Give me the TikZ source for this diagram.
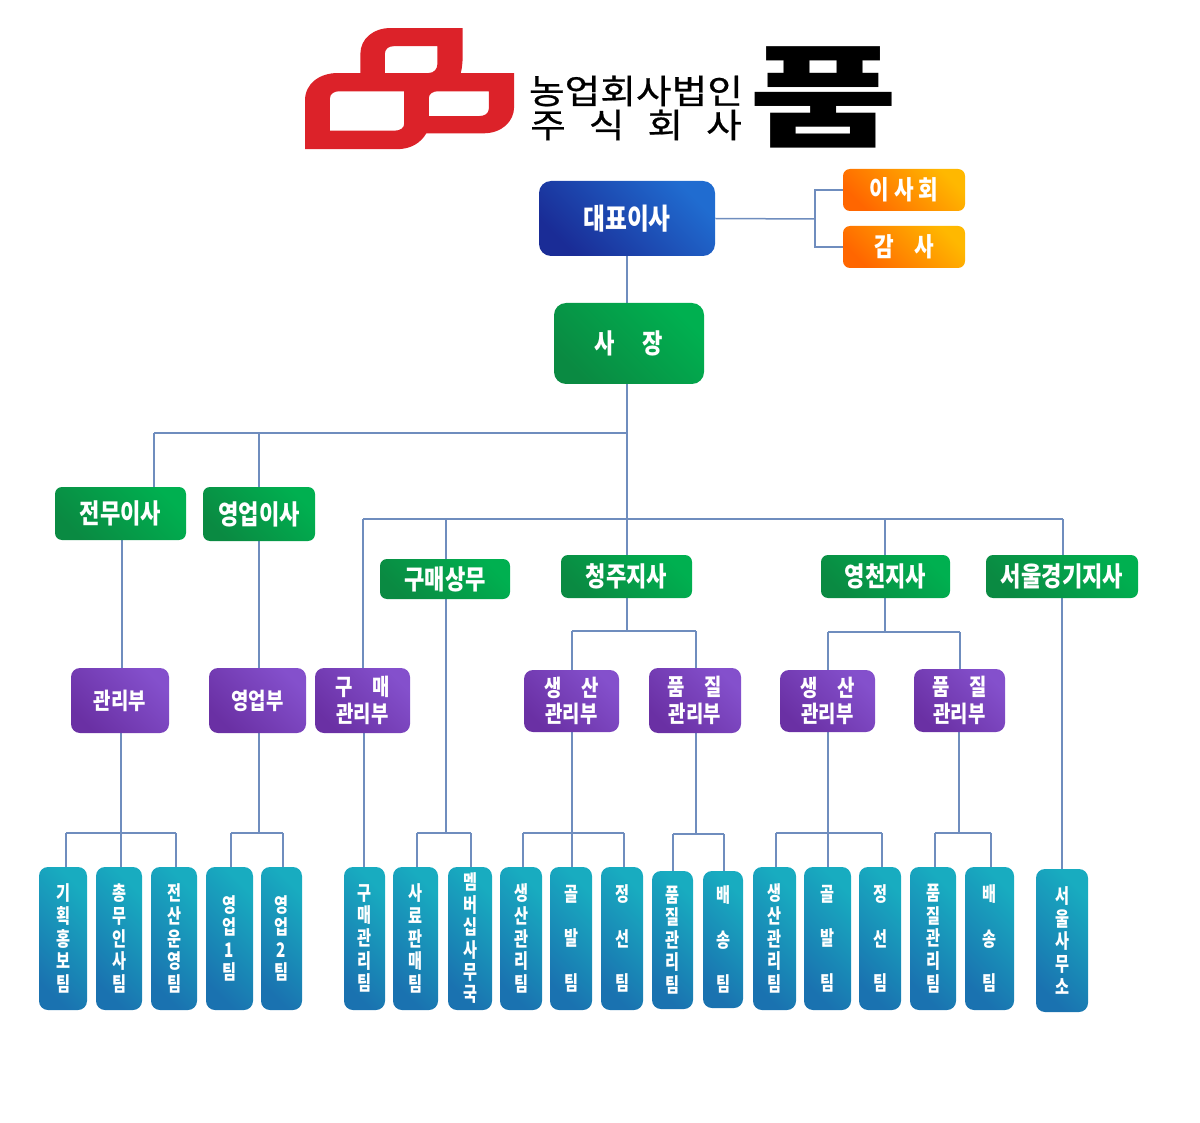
\documentclass[tikz,border=0pt]{standalone}
\usepackage{fontspec}
\usetikzlibrary{backgrounds}
\newfontfamily\krf[FakeStretch=0.82]{Noto Sans CJK KR}
\newfontfamily\krt[FakeStretch=0.76]{Noto Sans CJK KR}
\newfontfamily\krh[FakeStretch=1.14,FakeBold=0.6]{Noto Sans CJK KR}
\newfontfamily\krp[FakeStretch=1.44]{Noto Sans CJK KR}
\definecolor{linec}{HTML}{6F8DBE}
\definecolor{LogoRed}{HTML}{DC2229}
\tikzset{
  box/.style={inner sep=0pt,align=center,text=white,rounded corners=5pt,font=\krf\bfseries},
  blueb/.style={box,left color=BlueL,right color=BlueR,shading angle=135,rounded corners=6pt,font=\krf\bfseries\fontsize{14.5}{17}\selectfont},
  orangeb/.style={box,left color=OrL,right color=OrR,shading angle=135,rounded corners=3.5pt,font=\krf\bfseries\fontsize{13}{16}\selectfont},
  greenb/.style={box,left color=GrL,right color=GrR,shading angle=135,rounded corners=3.5pt,font=\krf\bfseries\fontsize{13.5}{16}\selectfont},
  bossb/.style={greenb,rounded corners=6pt},
  purpleb/.style={box,left color=PuL,right color=PuR,shading angle=135,rounded corners=4.5pt,font=\krf\bfseries\fontsize{11.5}{13.3}\selectfont},
  teamb/.style={box,left color=TeL,right color=TeR,shading angle=135,rounded corners=4.5pt},
  wire/.style={draw=linec,line width=.75pt},
}
\definecolor{BlueL}{HTML}{1A2C96}\definecolor{BlueR}{HTML}{206CD0}
\definecolor{OrL}{HTML}{FF6600}\definecolor{OrR}{HTML}{FFB800}
\definecolor{GrL}{HTML}{0A8A42}\definecolor{GrR}{HTML}{00B050}
\definecolor{PuL}{HTML}{6A30A4}\definecolor{PuR}{HTML}{8450CC}
\definecolor{TeL}{HTML}{1A72B0}\definecolor{TeR}{HTML}{18ACC0}
% name, x1, y1, x2, y2, style, text
\newcommand\bx[7]{\node[#6,minimum width={(#4-#2)*.5pt},minimum height={(#5-#3)*.5pt}] (#1) at ({(#2+#4)/2},{(#3+#5)/2}) {#7};}
% name, x1, y1, x2, y2, pitch(pt), text
\newcommand\tm[7]{\node[teamb,minimum width={(#4-#2)*.5pt},minimum height={(#5-#3)*.5pt},font=\krt\bfseries\fontsize{10}{#6}\selectfont] (#1) at ({(#2+#4)/2},{(#3+#5)/2}) {#7};}
% vertical wire at x between two anchors
\newcommand\vw[3]{\draw[wire] (#1,0 |- #2) -- (#1,0 |- #3);}
\begin{document}
\begin{tikzpicture}[x=.5pt,y=-.5pt]
\useasboundingbox (0,0) rectangle (1200,1123);
% logo
\begin{scope}[shift={(290,10.8)},xscale=.3953,yscale=.3311]
\fill[fill=LogoRed,even odd rule]
 (38,418) -- (38,270) .. controls (38,220) and (75,188) .. (120,188) -- (178,188) -- (178,130)
 .. controls (178,85) and (210,52) .. (255,52) -- (437,52) -- (437,120) .. controls (437,150) and (436,170) .. (432,188)
 -- (567,188) -- (567,290) .. controls (567,335) and (535,370) .. (490,370) -- (345,370)
 .. controls (330,400) and (305,418) .. (270,418) -- cycle
 (240,188) -- (240,130) .. controls (240,115) and (250,107) .. (262,107) -- (373,107) -- (373,160) .. controls (373,175) and (365,188) .. (350,188) -- cycle
 (101,362) -- (101,265) .. controls (101,250) and (112,243) .. (125,243) -- (289,243) -- (289,340) .. controls (289,353) and (280,362) .. (265,362) -- cycle
 (351,318) -- (351,265) .. controls (351,250) and (362,243) .. (375,243) -- (503,243) -- (503,295) .. controls (503,310) and (493,318) .. (478,318) -- cycle;
\end{scope}
\node[inner sep=0pt,font=\krh\fontsize{17}{20}\selectfont] (corp1) at (636,91) {농업회사법인};
\node[inner sep=0pt,font=\krh\fontsize{17}{20}\selectfont] (corp2) at (636,125) {주\hspace{11.5pt}식\hspace{11.5pt}회\hspace{11.5pt}사};
\node[inner sep=0pt,font=\krp\bfseries\fontsize{56}{60}\selectfont] (pum) at (824,97) {품};
% boxes
\bx{ceo}{539}{181}{715}{256}{blueb}{대표이사}
\bx{board}{843}{169}{965}{211}{orangeb}{이 사 회}
\bx{audit}{843}{226}{965}{268}{orangeb}{감\hspace{10pt}사}
\bx{pres}{554}{303}{704}{384}{bossb}{사\hspace{14pt}장}
\bx{g1}{55}{487}{186}{540}{greenb}{전무이사}
\bx{g2}{203}{487}{315}{541}{greenb}{영업이사}
\bx{g3}{380}{559}{510}{599}{greenb}{구매상무}
\bx{g4}{561}{555}{692}{598}{greenb}{청주지사}
\bx{g5}{821}{555}{950}{598}{greenb}{영천지사}
\bx{g6}{986}{555}{1138}{598}{greenb}{서울경기지사}
\bx{p1}{71}{668}{169}{733}{purpleb}{관리부}
\bx{p2}{209}{668}{306}{733}{purpleb}{영업부}
\bx{p3}{315}{668}{410}{733}{purpleb}{구\hspace{10pt}매\\관리부}
\bx{p4}{524}{670}{619}{732}{purpleb}{생\hspace{10pt}산\\관리부}
\bx{p5}{649}{668}{741}{733}{purpleb}{품\hspace{10pt}질\\관리부}
\bx{p6}{780}{670}{875}{732}{purpleb}{생\hspace{10pt}산\\관리부}
\bx{p7}{914}{669}{1005}{732}{purpleb}{품\hspace{10pt}질\\관리부}
\tm{t1}{39}{867}{87}{1010}{11.3}{기\\획\\홍\\보\\팀}
\tm{t2}{96}{867}{142}{1010}{11.3}{총\\무\\인\\사\\팀}
\tm{t3}{151}{867}{197}{1010}{11.3}{전\\산\\운\\영\\팀}
\tm{t4}{206}{867}{253}{1010}{11.3}{영\\업\\1\\팀}
\tm{t5}{261}{867}{302}{1010}{11.3}{영\\업\\2\\팀}
\tm{t6}{344}{867}{385}{1010}{11.3}{구\\매\\관\\리\\팀}
\tm{t7}{393}{867}{438}{1010}{11.3}{사\\료\\판\\매\\팀}
\tm{t8}{448}{867}{492}{1010}{11.2}{멤\\버\\십\\사\\무\\국}
\tm{t9}{500}{867}{542}{1010}{11.3}{생\\산\\관\\리\\팀}
\tm{t10}{550}{867}{592}{1010}{22.3}{골\\발\\팀}
\tm{t11}{601}{867}{643}{1010}{22.3}{정\\선\\팀}
\tm{t12}{652}{871}{693}{1009}{11.3}{품\\질\\관\\리\\팀}
\tm{t13}{703}{871}{743}{1008}{22.3}{배\\송\\팀}
\tm{t14}{753}{867}{796}{1010}{11.3}{생\\산\\관\\리\\팀}
\tm{t15}{804}{867}{851}{1010}{22.3}{골\\발\\팀}
\tm{t16}{859}{867}{901}{1010}{22.3}{정\\선\\팀}
\tm{t17}{910}{867}{956}{1010}{11.3}{품\\질\\관\\리\\팀}
\tm{t18}{965}{867}{1014}{1010}{22.3}{배\\송\\팀}
\tm{t19}{1036}{869}{1088}{1012}{11.3}{서\\울\\사\\무\\소}
% bus coordinates
\coordinate (upL) at (154,433); \coordinate (upM) at (259,433); \coordinate (upR) at (627,433);
\coordinate (midL) at (363,519); \coordinate (midR) at (1063,519); \coordinate (midA) at (446,519); \coordinate (midC) at (627,519); \coordinate (midD) at (885,519);
\coordinate (brd) at (815,219);
\begin{scope}[on background layer]
\vw{627}{ceo.south}{pres.north}
\draw[wire] (ceo.east) -- (brd);
\draw[wire] (board.west) -| (brd);
\draw[wire] (audit.west) -| (brd);
\vw{627}{pres.south}{g4.north}
\draw[wire] (upL) -- (upR);
\draw[wire] (upL) -- (upL |- g1.north);
\draw[wire] (upM) -- (upM |- g2.north);
\draw[wire] (midL) -- (midR);
\draw[wire] (midL) -- (midL |- p3.north);
\draw[wire] (midA) -- (midA |- g3.north);
\draw[wire] (midD) -- (midD |- g5.north);
\draw[wire] (midR) -- (midR |- g6.north);
\vw{122}{g1.south}{p1.north}
\vw{259}{g2.south}{p2.north}
\vw{121}{p1.south}{t2.north}
\draw[wire] (66,833) coordinate (a1) -- (176,833) coordinate (a2);
\draw[wire] (a1) -- (a1 |- t1.north);
\draw[wire] (a2) -- (a2 |- t3.north);
\vw{259}{p2.south}{259,833}
\draw[wire] (231,833) coordinate (b1) -- (283,833) coordinate (b2);
\draw[wire] (b1) -- (b1 |- t4.north);
\draw[wire] (b2) -- (b2 |- t5.north);
\vw{364}{p3.south}{t6.north}
\vw{446}{g3.south}{446,833}
\draw[wire] (417,833) coordinate (c1) -- (471,833) coordinate (c2);
\draw[wire] (c1) -- (c1 |- t7.north);
\draw[wire] (c2) -- (c2 |- t8.north);
\vw{627}{g4.south}{627,631}
\draw[wire] (572,631) coordinate (d1) -- (696,631) coordinate (d2);
\draw[wire] (d1) -- (d1 |- p4.north);
\draw[wire] (d2) -- (d2 |- p5.north);
\vw{885}{g5.south}{885,632}
\draw[wire] (828,632) coordinate (e1) -- (960,632) coordinate (e2);
\draw[wire] (e1) -- (e1 |- p6.north);
\draw[wire] (e2) -- (e2 |- p7.north);
\vw{572}{p4.south}{t10.north}
\draw[wire] (523,833) coordinate (f1) -- (624,833) coordinate (f2);
\draw[wire] (f1) -- (f1 |- t9.north);
\draw[wire] (f2) -- (f2 |- t11.north);
\vw{696}{p5.south}{696,834}
\draw[wire] (673,834) coordinate (h1) -- (724,834) coordinate (h2);
\draw[wire] (h1) -- (h1 |- t12.north);
\draw[wire] (h2) -- (h2 |- t13.north);
\vw{828}{p6.south}{t15.north}
\draw[wire] (776,833) coordinate (i1) -- (882,833) coordinate (i2);
\draw[wire] (i1) -- (i1 |- t14.north);
\draw[wire] (i2) -- (i2 |- t16.north);
\vw{959}{p7.south}{959,833}
\draw[wire] (935,833) coordinate (j1) -- (991,833) coordinate (j2);
\draw[wire] (j1) -- (j1 |- t17.north);
\draw[wire] (j2) -- (j2 |- t18.north);
\vw{1062}{g6.south}{t19.north}
\end{scope}
\end{tikzpicture}
\end{document}
